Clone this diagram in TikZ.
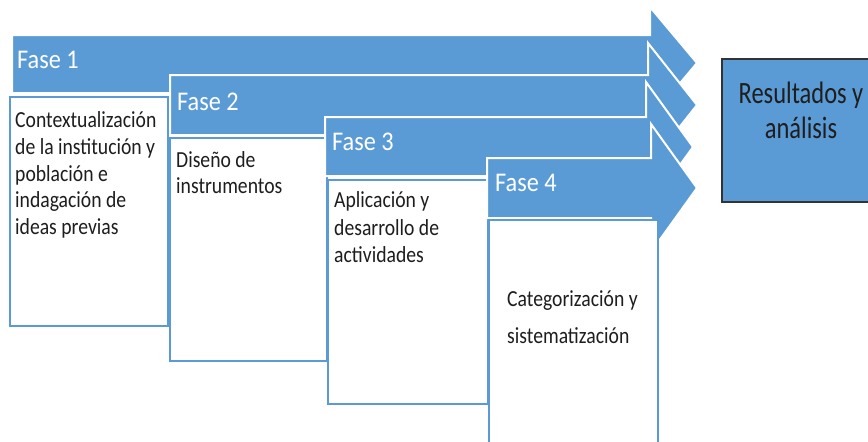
\documentclass[tikz,border=0pt]{standalone}
\usepackage{fontspec}
\setmainfont{Carlito}
\newfontfamily\fasefont{Carlito}[FakeStretch=0.90]
\newfontfamily\boxfont{Carlito}[FakeStretch=0.855]
\newfontfamily\resfont{Carlito}[FakeStretch=0.79]
\definecolor{ofblue}{RGB}{91,155,213}
\definecolor{txtdark}{RGB}{30,30,30}
\begin{document}
\begin{tikzpicture}[x=1pt,y=-1pt,
  arrowshape/.style={fill=ofblue, draw=white, line width=2pt, line join=miter},
  textbox/.style={fill=white, draw=ofblue, line width=2.5pt},
  resbox/.style={fill=ofblue, draw=black!80, line width=1.3pt},
  fase/.style={anchor=base west, inner sep=0pt, text=white, font=\fasefont\fontsize{27}{32}\selectfont},
  boxline/.style={anchor=base west, inner sep=0pt, text=txtdark, font=\boxfont\fontsize{23}{27}\selectfont},
  resline/.style={anchor=base, inner sep=0pt, text=txtdark, font=\resfont\fontsize{31}{35}\selectfont}]
\useasboundingbox (0,0) rectangle (868,442);
\clip (0,0) rectangle (868,442);
% phase 1
\draw[arrowshape] (12,35) -- (650,35) -- (650,7) -- (697,63) -- (650,119) -- (650,93) -- (12,93) -- cycle;
\draw[textbox] (10,97) rectangle (168,326);
% phase 2
\draw[arrowshape] (170,75) -- (648,75) -- (648,43) -- (697,105) -- (648,167) -- (648,135) -- (170,135) -- cycle;
\draw[textbox] (170,138) rectangle (327,361);
% phase 3
\draw[arrowshape] (325,117) -- (646,117) -- (646,82) -- (693,147) -- (646,212) -- (646,176) -- (325,176) -- cycle;
\draw[textbox] (328,180) rectangle (488,404);
% phase 4
\draw[arrowshape] (487,158) -- (651,158) -- (651,124) -- (697,188) -- (651,252) -- (651,218) -- (487,218) -- cycle;
\draw[textbox] (489,220) rectangle (658,470);
% result
\draw[resbox] (722,59) rectangle (890,202);

\node[fase] (f1) at (17,68) {Fase 1};
\node[fase] (f2) at (177,110) {Fase 2};
\node[fase] (f3) at (332,150) {Fase 3};
\node[fase] (f4) at (495,191) {Fase 4};

\node[boxline] (t1a) at (15,127) {Contextualización};
\node[boxline] (t1b) at (15,154) {de la institución y};
\node[boxline] (t1c) at (15,181) {población e};
\node[boxline] (t1d) at (15,207) {indagación de};
\node[boxline] (t1e) at (15,234) {ideas previas};

\node[boxline] (t2a) at (176,167) {Diseño de};
\node[boxline] (t2b) at (176,193) {instrumentos};

\node[boxline] (t3a) at (334,207) {Aplicación y};
\node[boxline] (t3b) at (334,235) {desarrollo de};
\node[boxline] (t3c) at (334,262) {actividades};

\node[boxline] (t4a) at (507,306) {Categorización y};
\node[boxline] (t4b) at (507,343) {sistematización};

\node[resline] (r1) at (801,103) {Resultados y};
\node[resline] (r2) at (801,138) {análisis};
\end{tikzpicture}
\end{document}
